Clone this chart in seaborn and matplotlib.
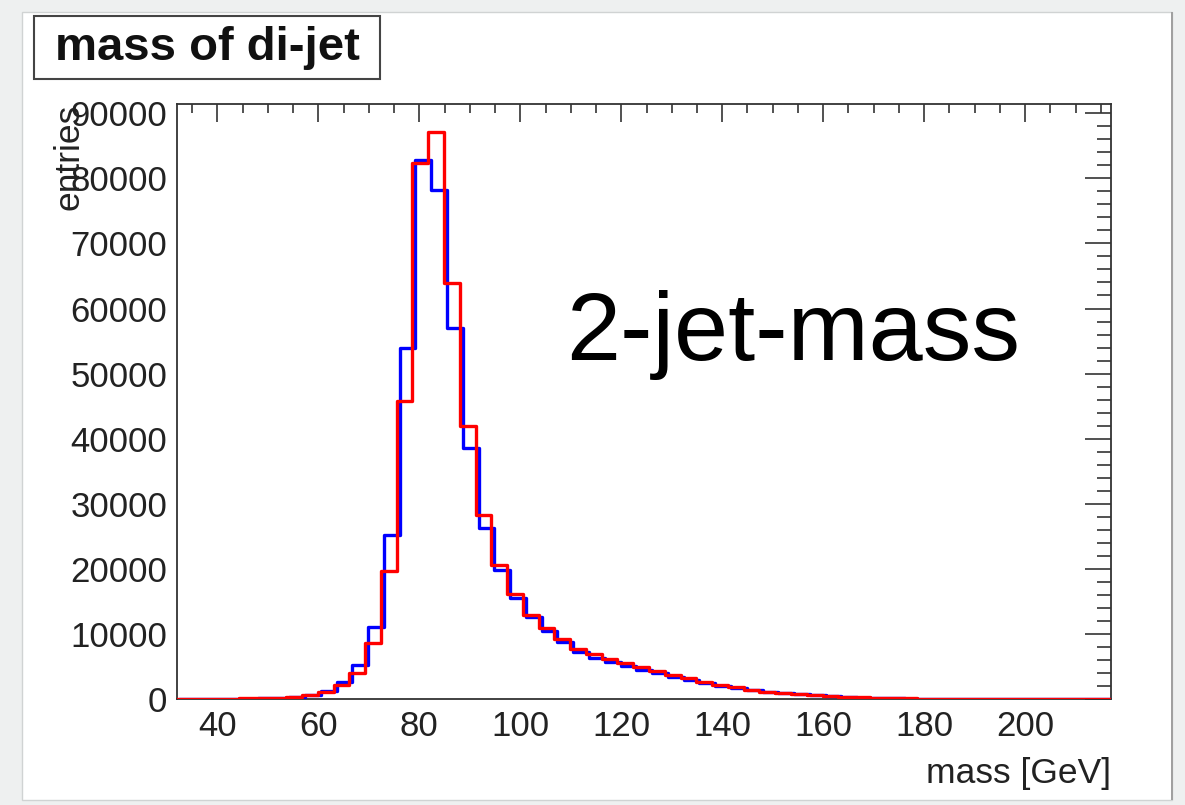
import numpy as np
import pandas as pd
import matplotlib
matplotlib.use('Agg')
import matplotlib.pyplot as plt
import matplotlib.patches as patches
from matplotlib.ticker import MultipleLocator
import seaborn as sns

# ---- du lieu: histogram khoi luong di-jet (bin 3.125 GeV) ----
bin_width = 3.125
red_edges = list(np.arange(10, 71) * bin_width + 0.5)
blue_edges = list(np.arange(10, 71) * bin_width + 1.1)

red_counts = [0, 0, 0, 0, 80, 120, 200, 350, 650, 1150,
              2150, 4050, 8550, 19600, 45800, 82400, 87100, 63900, 42000, 28300,
              20600, 16100, 12900, 10900, 9200, 7650, 6850, 6100, 5500, 4900,
              4300, 3700, 3150, 2650, 2200, 1800, 1450, 1150, 950, 780,
              600, 460, 340, 250, 180, 120, 80, 50, 30, 20,
              10, 5, 0, 0, 0, 0, 0, 0, 0, 0]
blue_counts = [0, 0, 0, 0, 70, 130, 220, 380, 650, 1200,
               2600, 5200, 11000, 25200, 53900, 82800, 78200, 57000, 38600, 26200,
               19800, 15500, 12650, 10450, 8800, 7150, 6350, 5700, 5100, 4500,
               3950, 3400, 2900, 2450, 2050, 1700, 1400, 1100, 900, 720,
               560, 430, 320, 230, 160, 110, 70, 45, 30, 20,
               10, 0, 0, 0, 0, 0, 0, 0, 0, 0]

df_red = pd.DataFrame({'mass': (np.array(red_edges[:-1]) + np.array(red_edges[1:])) / 2,
                       'entries': red_counts})
df_blue = pd.DataFrame({'mass': (np.array(blue_edges[:-1]) + np.array(blue_edges[1:])) / 2,
                        'entries': blue_counts})

# ---- style ----
sns.set_style('white')
plt.rcParams['font.family'] = ['Liberation Sans', 'DejaVu Sans']

fig = plt.figure(figsize=(11.85, 8.05), dpi=100, facecolor='#eef0f0')
# khung trang cua canvas
fig.patches.append(patches.Rectangle((22 / 1185, 1 - 800 / 805), 1150 / 1185, 788 / 805,
                                     transform=fig.transFigure, facecolor='white',
                                     edgecolor='#d0d3d3', lw=1, zorder=-2))
fig.patches.append(patches.Rectangle((1171 / 1185, 1 - 800 / 805), 2 / 1185, 788 / 805,
                                     transform=fig.transFigure, facecolor='#a0a0a0',
                                     edgecolor='none', zorder=-2))

ax = fig.add_axes([177 / 1185, 1 - 699 / 805, 934 / 1185, 595.5 / 805])
ax.set_zorder(1)
ax.set_facecolor('white')

sns.histplot(data=df_blue, x='mass', weights='entries', bins=blue_edges, element='step',
             fill=False, color='#0000ff', linewidth=2.4, ax=ax, zorder=3)
sns.histplot(data=df_red, x='mass', weights='entries', bins=red_edges, element='step',
             fill=False, color='#ff0000', linewidth=2.4, ax=ax, zorder=4)

ax.set_xlim(32, 217)
ax.set_ylim(0, 91500)

ax.xaxis.set_major_locator(MultipleLocator(20))
ax.xaxis.set_minor_locator(MultipleLocator(5))
ax.yaxis.set_major_locator(MultipleLocator(10000))
ax.yaxis.set_minor_locator(MultipleLocator(2000))
ax.tick_params(axis='both', which='both', direction='in', top=True, right=True,
               colors='#333333', labelcolor='#222222', width=1.2, labelsize=25)
ax.tick_params(axis='x', which='major', length=13, pad=8)
ax.tick_params(axis='x', which='minor', length=6.5)
ax.tick_params(axis='y', which='major', length=19, pad=7)
ax.tick_params(axis='y', which='minor', length=10)
for s in ax.spines.values():
    s.set_color('#333333')
    s.set_linewidth(1.3)

# nhan truc kieu ROOT (nhan "entries" de len so 90000 nhu ban goc)
ax.set_xlabel('mass [GeV]', fontsize=25.5, color='#222222', loc='right')
ax.xaxis.set_label_coords(1.0, -0.098)
ax.set_ylabel('entries', fontsize=25.5, color='#222222', loc='top')
ax.yaxis.set_label_coords(-0.098, 1.0)

# hop tieu de kieu ROOT
fig.patches.append(patches.Rectangle((34 / 1185, 1 - 79 / 805), 346 / 1185, 63 / 805,
                                     transform=fig.transFigure, facecolor='white',
                                     edgecolor='#444444', lw=1.5, zorder=2))
fig.text(207 / 1185, 1 - 48 / 805, 'mass of di-jet', fontsize=34, fontweight='bold',
         ha='center', va='center', color='#111111', zorder=3)

fig.text(793 / 1185, 1 - 360 / 805, '2-jet-mass', fontsize=70, ha='center',
         va='baseline', color='black', zorder=3)

fig.savefig('out.png', dpi=100, facecolor=fig.get_facecolor())
